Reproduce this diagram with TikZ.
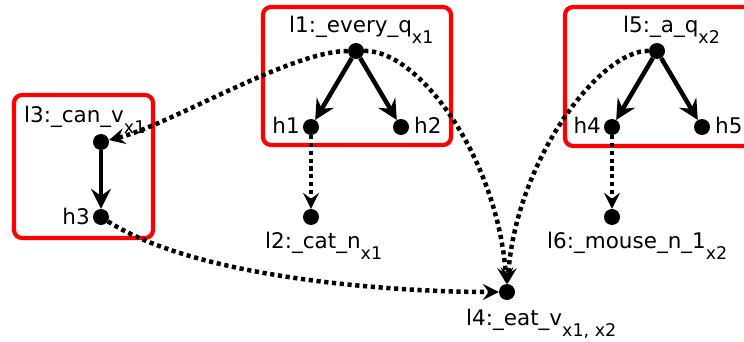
\documentclass[tikz,border=0pt]{standalone}
\usepackage{fontspec}
\setmainfont{DejaVu Sans}
\usetikzlibrary{arrows.meta}
\newcommand\mysub[2]{#1\raisebox{-11pt}{\fontsize{17.5}{17.5}\selectfont #2}}
\begin{document}
\begin{tikzpicture}[x=1pt,y=-1pt,
  dotnode/.style={circle,fill=black,inner sep=0pt,minimum size=16pt},
  boxline/.style={draw=red,line width=4.2pt,rounded corners=8pt},
  solidarrow/.style={line width=4.5pt,-{Stealth[length=20pt,width=20pt,inset=7pt]}},
  dotarrow/.style={line width=4.5pt,dash pattern=on 4.2pt off 3.6pt,-{Stealth[length=16pt,width=16pt,inset=6pt]}},
  lbl/.style={font=\fontsize{21.5}{25}\selectfont,inner sep=0pt,anchor=base west}]
\useasboundingbox (0,0) rectangle (744,342);
\clip (0,0) rectangle (744,342);
% boxes
\draw[boxline] (14,95) rectangle (153,238);
\draw[boxline] (263,7) rectangle (451,145);
\draw[boxline] (565,7) rectangle (770,146);
% dots
\node[dotnode] (l1) at (356,51) {};
\node[dotnode] (h1) at (311,127) {};
\node[dotnode] (h2) at (401,127) {};
\node[dotnode] (l2) at (311,217) {};
\node[dotnode] (l3) at (101,142) {};
\node[dotnode] (h3) at (101,217) {};
\node[dotnode] (l5) at (657,51) {};
\node[dotnode] (h4) at (612,127) {};
\node[dotnode] (h5) at (702,127) {};
\node[dotnode] (l6) at (612,217) {};
\node[dotnode] (l4) at (507,292) {};
% labels
\node[lbl] (tl1) at (289,33) {\mysub{l1:\_every\_q}{x1}};
\node[lbl] (tl5) at (623,33) {\mysub{l5:\_a\_q}{x2}};
\node[lbl] (tl3) at (24,123) {\mysub{l3:\_can\_v}{x1}};
\node[lbl] (tl2) at (265,248) {\mysub{l2:\_cat\_n}{x1}};
\node[lbl] (tl6) at (547,248) {\mysub{l6:\_mouse\_n\_1}{x2}};
\node[lbl] (tl4) at (466,325) {\mysub{l4:\_eat\_v}{x1, x2}};
\node[lbl,anchor=base east] (th1) at (300,134) {h1};
\node[lbl] (th2) at (414,134) {h2};
\node[lbl,anchor=base east] (th3) at (90,224) {h3};
\node[lbl,anchor=base east] (th4) at (601,134) {h4};
\node[lbl] (th5) at (715,134) {h5};
% solid arrows
\draw[solidarrow] (l1) -- (h1);
\draw[solidarrow] (l1) -- (h2);
\draw[solidarrow] (l5) -- (h4);
\draw[solidarrow] (l5) -- (h5);
\draw[solidarrow] (l3) -- (h3);
% dotted arrows
\draw[dotarrow] (h1) -- (l2);
\draw[dotarrow] (h4) -- (l6);
\draw[dotarrow] (l1) .. controls (290,51) and (170,125) .. (l3);
\draw[dotarrow] (l1) .. controls (420,50) and (498,160) .. (l4);
\draw[dotarrow] (l5) .. controls (600,50) and (516,160) .. (l4);
\draw[dotarrow] (h3) .. controls (200,280) and (400,292) .. (l4);
\end{tikzpicture}
\end{document}
